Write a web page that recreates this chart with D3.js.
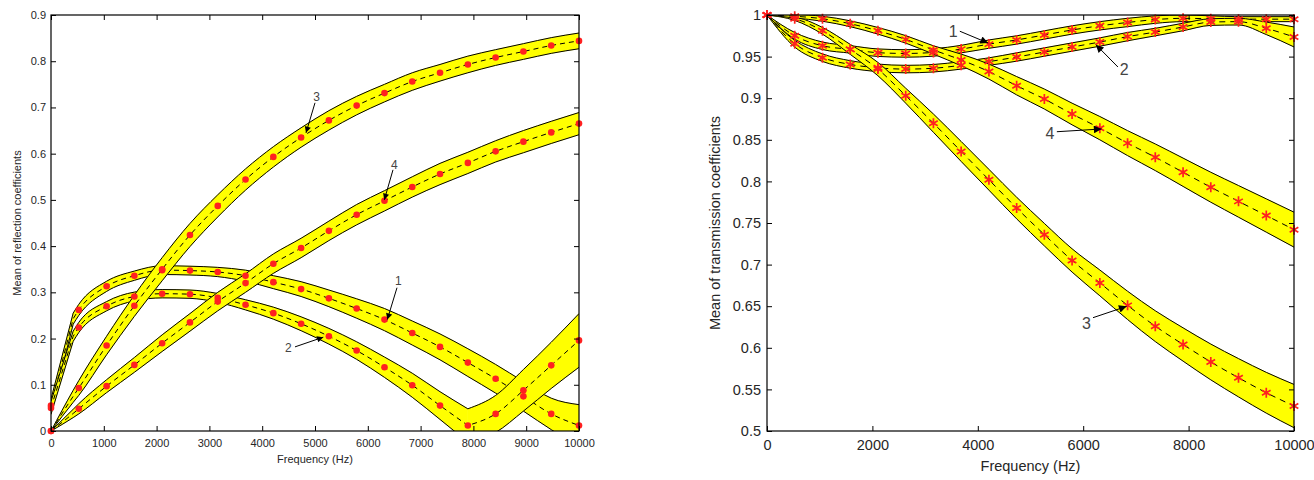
<!DOCTYPE html>
<html>
<head>
<meta charset="utf-8">
<script src="https://cdn.jsdelivr.net/npm/d3@7"></script>
<style>
  body { margin: 0; background: #fff; }
  text { font-family: "Liberation Sans", Arial, sans-serif; }
</style>
</head>
<body>
<div id="chart"></div>
<script>
// ---- Data: left panel (reflection) ----
const reflFreq = [0, 420, 526, 1053, 1579, 2105, 2632, 3158, 3684, 4211, 4737, 5263, 5789, 6316, 6842, 7368, 7895, 8421, 8947, 9474, 10000];
const reflKnots = [420]; // bend point only, no marker there

const reflMean1 = [0.055, 0.243, 0.262, 0.313, 0.336, 0.348, 0.347, 0.344, 0.336, 0.322, 0.307, 0.287, 0.265, 0.241, 0.212, 0.182, 0.148, 0.113, 0.075, 0.037, 0.012];
const reflSpread1 = [0.014, 0.012, 0.012, 0.011, 0.010, 0.0095, 0.0095, 0.010, 0.012, 0.014, 0.016, 0.018, 0.021, 0.024, 0.026, 0.028, 0.030, 0.031, 0.032, 0.034, 0.045];
const reflMean2 = [0.050, 0.205, 0.224, 0.270, 0.291, 0.297, 0.296, 0.288, 0.273, 0.255, 0.232, 0.205, 0.174, 0.138, 0.099, 0.055, 0.012, 0.037, 0.088, 0.142, 0.196];
const reflSpread2 = [0.014, 0.011, 0.011, 0.010, 0.0095, 0.009, 0.009, 0.0095, 0.011, 0.013, 0.015, 0.017, 0.019, 0.022, 0.026, 0.030, 0.036, 0.040, 0.045, 0.050, 0.058];
const reflMean3 = [0, 0.075, 0.093, 0.185, 0.271, 0.350, 0.424, 0.487, 0.544, 0.593, 0.635, 0.672, 0.704, 0.731, 0.756, 0.775, 0.793, 0.808, 0.821, 0.834, 0.844];
const reflSpread3 = [0, 0.013, 0.016, 0.020, 0.023, 0.025, 0.025, 0.024, 0.023, 0.022, 0.021, 0.021, 0.020, 0.019, 0.019, 0.018, 0.018, 0.017, 0.017, 0.017, 0.017];
const reflMean4 = [0, 0.038, 0.048, 0.097, 0.143, 0.190, 0.235, 0.280, 0.320, 0.362, 0.396, 0.433, 0.468, 0.498, 0.528, 0.556, 0.580, 0.605, 0.626, 0.646, 0.665];
const reflSpread4 = [0, 0.009, 0.011, 0.014, 0.016, 0.018, 0.019, 0.020, 0.020, 0.021, 0.021, 0.021, 0.022, 0.022, 0.022, 0.023, 0.023, 0.023, 0.024, 0.024, 0.024];
const reflKinks = [[420], [420, 7895], [], []];

const reflXTicks = [0, 1000, 2000, 3000, 4000, 5000, 6000, 7000, 8000, 9000, 10000];
const reflXTickLabels = ["0", "1000", "2000", "3000", "4000", "5000", "6000", "7000", "8000", "9000", "10000"];
const reflYTicks = [0, 0.1, 0.2, 0.3, 0.4, 0.5, 0.6, 0.7, 0.8, 0.9];
const reflYTickLabels = ["0", "0.1", "0.2", "0.3", "0.4", "0.5", "0.6", "0.7", "0.8", "0.9"];

// annotations: label, text position, arrow tail, arrow tip  [freq, value]
const reflNoteLabels = ["3", "4", "1", "2"];
const reflNoteText = [[5032, 0.723], [6502, 0.576], [6578, 0.324], [4494, 0.180]];
const reflNoteTail = [[5000, 0.710], [6477, 0.565], [6553, 0.310], [4621, 0.182]];
const reflNoteTip = [[4830, 0.645], [6313, 0.500], [6369, 0.241], [5157, 0.203]];

// ---- Data: right panel (transmission) ----
const transFreq = [0, 526, 1053, 1579, 2105, 2632, 3158, 3684, 4211, 4737, 5263, 5789, 6316, 6842, 7368, 7895, 8421, 8947, 9474, 10000];

const transMean1 = [1, 0.975, 0.963, 0.9587, 0.9547, 0.9538, 0.955, 0.959, 0.965, 0.970, 0.976, 0.982, 0.987, 0.991, 0.9945, 0.996, 0.9955, 0.995, 0.995, 0.995];
const transSpread1 = [0, 0.004, 0.0045, 0.0045, 0.0045, 0.0045, 0.0045, 0.0045, 0.005, 0.005, 0.005, 0.005, 0.005, 0.005, 0.0045, 0.004, 0.0035, 0.003, 0.003, 0.003];
const transMean2 = [1, 0.9655, 0.9487, 0.9406, 0.9365, 0.935, 0.936, 0.9395, 0.944, 0.9495, 0.9555, 0.9615, 0.9675, 0.974, 0.9795, 0.9856, 0.9915, 0.992, 0.984, 0.9736];
const transSpread2 = [0, 0.004, 0.0045, 0.0045, 0.0045, 0.0045, 0.0045, 0.0045, 0.0045, 0.005, 0.005, 0.005, 0.005, 0.005, 0.0045, 0.0045, 0.004, 0.004, 0.0075, 0.012];
const transMean3 = [1, 0.9955, 0.981, 0.9587, 0.935, 0.903, 0.870, 0.836, 0.802, 0.768, 0.736, 0.705, 0.678, 0.651, 0.626, 0.604, 0.583, 0.564, 0.546, 0.530];
const transSpread3 = [0, 0.002, 0.004, 0.006, 0.008, 0.009, 0.011, 0.012, 0.0125, 0.013, 0.0135, 0.014, 0.0155, 0.017, 0.0185, 0.020, 0.0215, 0.023, 0.0245, 0.026];
const transMean4 = [1, 0.9985, 0.9955, 0.9895, 0.981, 0.9707, 0.958, 0.946, 0.932, 0.915, 0.899, 0.881, 0.864, 0.846, 0.829, 0.811, 0.793, 0.776, 0.759, 0.742];
const transSpread4 = [0, 0.002, 0.003, 0.0035, 0.004, 0.0045, 0.005, 0.007, 0.009, 0.011, 0.012, 0.013, 0.014, 0.015, 0.016, 0.017, 0.018, 0.019, 0.020, 0.021];
const transKinks = [[], [], [], []];

const transXTicks = [0, 2000, 4000, 6000, 8000, 10000];
const transXTickLabels = ["0", "2000", "4000", "6000", "8000", "10000"];
const transYTicks = [0.5, 0.55, 0.6, 0.65, 0.7, 0.75, 0.8, 0.85, 0.9, 0.95, 1];
const transYTickLabels = ["0.5", "0.55", "0.6", "0.65", "0.7", "0.75", "0.8", "0.85", "0.9", "0.95", "1"];

const transNoteLabels = ["1", "2", "4", "3"];
const transNoteText = [[3531, 0.9803], [6778, 0.9343], [5367, 0.8582], [6064, 0.6298]];
const transNoteTail = [[3659, 0.9805], [6659, 0.9375], [5500, 0.8597], [6186, 0.6362]];
const transNoteTip = [[4196, 0.9663], [6241, 0.9643], [6349, 0.863], [6824, 0.6498]];

// ---- Drawing ----
const svg = d3.select("#chart").append("svg")
  .attr("width", 1314)
  .attr("height", 480);

const defs = svg.append("defs");

function splitAt(pts, kinkFreqs) {
  const cuts = [0, ...kinkFreqs.map(f => pts.findIndex(p => p.f === f)), pts.length - 1];
  return d3.pairs(cuts).map(([a, b]) => pts.slice(a, b + 1));
}

function drawPanel(cfg) {
  const x = d3.scaleLinear().domain(cfg.xDomain).range([cfg.left, cfg.right]);
  const y = d3.scaleLinear().domain(cfg.yDomain).range([cfg.bottom, cfg.top]);
  const g = svg.append("g");

  defs.append("clipPath").attr("id", cfg.id + "-clip")
    .append("rect")
    .attr("x", cfg.left).attr("y", cfg.top)
    .attr("width", cfg.right - cfg.left).attr("height", cfg.bottom - cfg.top);

  defs.append("marker").attr("id", cfg.id + "-arrow")
    .attr("viewBox", "0 0 10 10").attr("refX", 10).attr("refY", 5)
    .attr("markerUnits", "userSpaceOnUse")
    .attr("markerWidth", cfg.arrowSize).attr("markerHeight", cfg.arrowSize * 0.7)
    .attr("orient", "auto")
    .append("path").attr("d", "M0,0L10,5L0,10z").attr("fill", "#000");

  const plot = g.append("g").attr("clip-path", `url(#${cfg.id}-clip)`);
  const marks = g.append("g");

  const area = d3.area().x(d => x(d.f)).y0(d => y(d.lo)).y1(d => y(d.hi)).curve(d3.curveMonotoneX);
  const lineOf = key => d3.line().x(d => x(d.f)).y(d => y(d[key])).curve(d3.curveMonotoneX);

  cfg.series.forEach(s => {
    const pts = cfg.freq.map((f, i) => ({
      f: f,
      m: s.mean[i],
      lo: s.mean[i] - s.spread[i],
      hi: s.mean[i] + s.spread[i]
    }));
    const pieces = splitAt(pts, s.kinks);
    const joined = key => pieces.map((pc, i) => {
      const d = lineOf(key)(pc);
      return i ? d.replace(/^M/, "L") : d;
    }).join("");

    pieces.forEach(pc => {
      plot.append("path").attr("d", area(pc))
        .attr("fill", "#ffff00").attr("stroke", "#ffff00").attr("stroke-width", 0.6);
    });
    ["hi", "lo"].forEach(k => {
      plot.append("path").attr("d", joined(k))
        .attr("fill", "none").attr("stroke", "#000").attr("stroke-width", 1);
    });
    plot.append("path").attr("d", joined("m"))
      .attr("fill", "none").attr("stroke", "#000").attr("stroke-width", 1)
      .attr("stroke-dasharray", cfg.dash);

    const mp = pts.filter(d => !cfg.knots.includes(d.f));
    if (cfg.markerType === "dot") {
      marks.selectAll(null).data(mp).enter().append("circle")
        .attr("cx", d => x(d.f)).attr("cy", d => y(d.m))
        .attr("r", 3.3).attr("fill", "#ff2020");
    } else {
      marks.selectAll(null).data(mp).enter().append("path")
        .attr("transform", d => `translate(${x(d.f)},${y(d.m)})`)
        .attr("d", d3.symbol(d3.symbolAsterisk, 70)())
        .attr("fill", "none").attr("stroke", "#ff2020").attr("stroke-width", 1.7);
    }
  });

  // axes, ticks pointing inward on all four sides
  const tick = 5;
  const fmtX = (d, i) => cfg.xTickLabels[i];
  const fmtY = (d, i) => cfg.yTickLabels[i];
  const axes = [
    d3.axisBottom(x).tickValues(cfg.xTicks).tickFormat(fmtX).tickSize(-tick).tickPadding(cfg.xPad),
    d3.axisTop(x).tickValues(cfg.xTicks).tickFormat("").tickSize(-tick),
    d3.axisLeft(y).tickValues(cfg.yTicks).tickFormat(fmtY).tickSize(-tick).tickPadding(cfg.yPad),
    d3.axisRight(y).tickValues(cfg.yTicks).tickFormat("").tickSize(-tick)
  ];
  const shifts = [`translate(0,${cfg.bottom})`, `translate(0,${cfg.top})`,
                  `translate(${cfg.left},0)`, `translate(${cfg.right},0)`];
  axes.forEach((ax, i) => {
    const a = g.append("g").attr("transform", shifts[i]).call(ax);
    a.select(".domain").remove();
    a.selectAll("line").attr("stroke", "#000");
    a.selectAll("text").attr("fill", "#262626")
      .style("font-size", cfg.font + "px")
      .style("font-family", '"Liberation Sans", Arial, sans-serif');
  });

  g.append("rect")
    .attr("x", cfg.left).attr("y", cfg.top)
    .attr("width", cfg.right - cfg.left).attr("height", cfg.bottom - cfg.top)
    .attr("fill", "none").attr("stroke", "#000").attr("stroke-width", 1.2);

  g.append("text")
    .attr("x", (cfg.left + cfg.right) / 2).attr("y", cfg.xLabelY)
    .attr("text-anchor", "middle").attr("fill", "#262626")
    .style("font-size", cfg.font + "px")
    .text("Frequency (Hz)");

  g.append("text")
    .attr("transform", `translate(${cfg.yLabelX},${(cfg.top + cfg.bottom) / 2}) rotate(-90)`)
    .attr("text-anchor", "middle").attr("fill", "#262626")
    .style("font-size", cfg.font + "px")
    .text(cfg.yLabel);

  // numbered arrows
  cfg.notes.forEach(n => {
    g.append("line")
      .attr("x1", x(n.tail[0])).attr("y1", y(n.tail[1]))
      .attr("x2", x(n.tip[0])).attr("y2", y(n.tip[1]))
      .attr("stroke", "#000").attr("stroke-width", 1)
      .attr("marker-end", `url(#${cfg.id}-arrow)`);
    g.append("text")
      .attr("x", x(n.text[0])).attr("y", y(n.text[1]))
      .attr("dy", "0.35em").attr("text-anchor", "middle")
      .attr("fill", "#444")
      .style("font-size", cfg.noteFont + "px")
      .text(n.label);
  });
}

drawPanel({
  id: "refl",
  left: 51, right: 579, top: 15, bottom: 431,
  xDomain: [0, 10000], yDomain: [0, 0.9],
  freq: reflFreq, knots: reflKnots,
  series: [
    { mean: reflMean1, spread: reflSpread1, kinks: reflKinks[0] },
    { mean: reflMean2, spread: reflSpread2, kinks: reflKinks[1] },
    { mean: reflMean3, spread: reflSpread3, kinks: reflKinks[2] },
    { mean: reflMean4, spread: reflSpread4, kinks: reflKinks[3] }
  ],
  xTicks: reflXTicks, xTickLabels: reflXTickLabels,
  yTicks: reflYTicks, yTickLabels: reflYTickLabels,
  font: 11, noteFont: 12, xPad: 8, yPad: 5,
  xLabelY: 463, yLabelX: 21, yLabel: "Mean of reflection coefficients",
  dash: "5,4", markerType: "dot", arrowSize: 9,
  notes: reflNoteLabels.map((l, i) => ({ label: l, text: reflNoteText[i], tail: reflNoteTail[i], tip: reflNoteTip[i] }))
});

drawPanel({
  id: "trans",
  left: 767, right: 1294, top: 15, bottom: 431,
  xDomain: [0, 10000], yDomain: [0.5, 1],
  freq: transFreq, knots: [],
  series: [
    { mean: transMean1, spread: transSpread1, kinks: transKinks[0] },
    { mean: transMean2, spread: transSpread2, kinks: transKinks[1] },
    { mean: transMean3, spread: transSpread3, kinks: transKinks[2] },
    { mean: transMean4, spread: transSpread4, kinks: transKinks[3] }
  ],
  xTicks: transXTicks, xTickLabels: transXTickLabels,
  yTicks: transYTicks, yTickLabels: transYTickLabels,
  font: 14.5, noteFont: 16, xPad: 9, yPad: 6,
  xLabelY: 471, yLabelX: 720, yLabel: "Mean of transmission coefficients",
  dash: "6,5", markerType: "star", arrowSize: 11,
  notes: transNoteLabels.map((l, i) => ({ label: l, text: transNoteText[i], tail: transNoteTail[i], tip: transNoteTip[i] }))
});
</script>
</body>
</html>
